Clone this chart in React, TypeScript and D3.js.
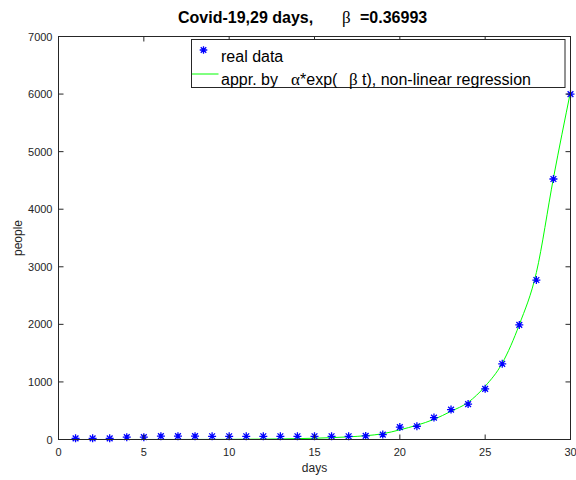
import React from "react";
import * as d3 from "d3";

const days = d3.range(1, 31);
const realData = [20, 20, 20, 40, 40, 58, 58, 58, 56, 56, 56, 56, 56, 56, 56, 56, 56, 62, 85, 215, 230, 380, 520, 615, 880, 1315, 1990, 2770, 4525, 6000];
const fitValues = [0.1, 0.2, 0.3, 0.4, 0.5, 0.7, 1, 1.5, 2, 3, 5, 7, 10, 15, 22, 32, 46, 66, 100, 168, 248, 350, 490, 645, 925, 1325, 1995, 2900, 4540, 6040];
const xTicks = [0, 5, 10, 15, 20, 25, 30];
const yTicks = [0, 1000, 2000, 3000, 4000, 5000, 6000, 7000];

const W = 576, H = 480;
const L = 58.5, R = 570.5, T = 36.5, B = 439.5;
const FONT = "'Liberation Sans', Arial, Helvetica, sans-serif";
const GREEK = "'Liberation Serif', 'DejaVu Serif', serif";
const AX = "#262626";

function star(cx: number, cy: number, r: number) {
  const d = r * 0.72;
  return `M${cx - r},${cy}H${cx + r}M${cx},${cy - r}V${cy + r}M${cx - d},${cy - d}L${cx + d},${cy + d}M${cx - d},${cy + d}L${cx + d},${cy - d}`;
}

export default function App() {
  const x = d3.scaleLinear().domain([0, 30]).range([L, R]);
  const y = d3.scaleLinear().domain([0, 7000]).range([B, T]);
  const line = d3.line<number>().x((_, i) => x(days[i])).y((v) => y(v)).curve(d3.curveMonotoneX);
  const fitPath = line(fitValues) || "";

  return (
    <svg width={W} height={H} style={{ position: "absolute", left: 0, top: 0, background: "#fff" }} fontFamily={FONT}>
      <rect x={0} y={0} width={W} height={H} fill="#fff" />
      <path d={fitPath} fill="none" stroke="#00ff00" strokeWidth={1} />
      <g stroke="#0000ff" strokeWidth={1.3} fill="none">
        {realData.map((v, i) => (
          <path key={i} d={star(x(days[i]), y(v), 4)} />
        ))}
      </g>
      <rect x={L} y={T} width={R - L} height={B - T} fill="none" stroke={AX} strokeWidth={1} />
      <g stroke={AX} strokeWidth={1}>
        {xTicks.map((t) => (
          <g key={"xt" + t}>
            <line x1={x(t)} x2={x(t)} y1={B} y2={B - 5} />
            <line x1={x(t)} x2={x(t)} y1={T} y2={T + 5} />
          </g>
        ))}
        {yTicks.map((t) => (
          <g key={"yt" + t}>
            <line x1={L} x2={L + 5} y1={y(t)} y2={y(t)} />
            <line x1={R} x2={R - 5} y1={y(t)} y2={y(t)} />
          </g>
        ))}
      </g>
      <g fill={AX} fontSize={11}>
        {xTicks.map((t) => (
          <text key={"xl" + t} x={x(t)} y={B + 16} textAnchor="middle">{t}</text>
        ))}
        {yTicks.map((t) => (
          <text key={"yl" + t} x={L - 6} y={y(t) + 4} textAnchor="end">{t}</text>
        ))}
      </g>
      <text x={(L + R) / 2} y={472} textAnchor="middle" fontSize={12} fill={AX}>days</text>
      <text transform={`translate(22,${(T + B) / 2}) rotate(-90)`} textAnchor="middle" fontSize={12} fill={AX}>people</text>
      <text x={178} y={23} fontSize={16} fontWeight="bold" fill="#000">Covid-19,29 days,</text>
      <text x={342} y={23} fontSize={17} fill="#000" fontFamily={GREEK}>β</text>
      <text x={360} y={23} fontSize={16} fontWeight="bold" fill="#000">=0.36993</text>
      <rect x={191.5} y={39.5} width={373.5} height={48} fill="#fff" stroke={AX} strokeWidth={1} />
      <path d={star(203.5, 50, 3.8)} stroke="#0000ff" strokeWidth={1.3} fill="none" />
      <text x={221} y={61.5} fontSize={16} fill="#000">real data</text>
      <line x1={192} x2={218.5} y1={74} y2={74} stroke="#00ff00" strokeWidth={1} />
      <g fontSize={16} fill="#000">
        <text x={221} y={84.5}>appr. by</text>
        <text x={291} y={84.5} fontFamily={GREEK} fontSize={17}>α</text>
        <text x={300} y={84.5}>*exp(</text>
        <text x={349} y={84.5} fontFamily={GREEK} fontSize={17}>β</text>
        <text x={362} y={84.5}>t), non-linear regression</text>
      </g>
    </svg>
  );
}
